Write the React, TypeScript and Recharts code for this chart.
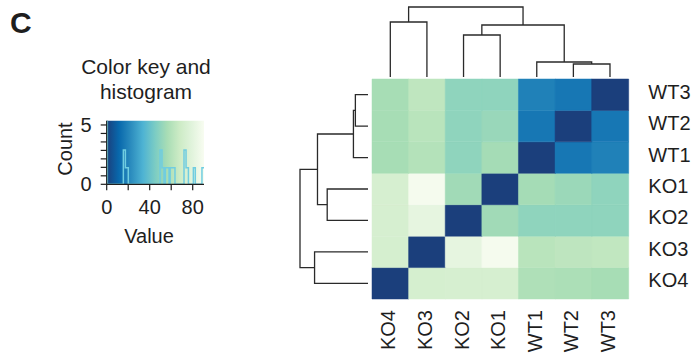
import React from "react";
import {
  BarChart,
  Bar,
  Cell,
  XAxis,
  YAxis,
  ScatterChart,
  Scatter,
  LineChart,
  Line,
  ReferenceArea,
} from "recharts";

// heatmap layout: columns left -> right, rows top -> bottom
const colNames = ["KO4", "KO3", "KO2", "KO1", "WT1", "WT2", "WT3"];
const rowNames = ["WT3", "WT2", "WT1", "KO1", "KO2", "KO3", "KO4"];

// distance values per row, in colNames order
const rowWT3 = [56, 63.5, 50, 50, 19, 16, 0];
const rowWT2 = [56, 61.5, 50, 52.5, 16, 0, 16];
const rowWT1 = [56, 60, 50, 55.5, 0, 16, 19];
const rowKO1 = [73, 89, 54.5, 0, 55.5, 53, 50];
const rowKO2 = [73, 81.5, 0, 54.5, 50, 50, 50];
const rowKO3 = [72.5, 0, 81.5, 89, 61.5, 63, 64];
const rowKO4 = [0, 72.5, 73, 73, 58.5, 57.5, 56];
const matrix = [rowWT3, rowWT2, rowWT1, rowKO1, rowKO2, rowKO3, rowKO4];

// hclust style merges: a name is a sample, a number points at an earlier merge (1-based)
const mergeLeft: (string | number)[] = ["WT2", "WT1", "KO2", 3, "KO4", 5];
const mergeRight: (string | number)[] = ["WT3", 1, "KO1", 2, "KO3", 4];
const mergeHeight = [13, 15, 42, 52, 55, 70];

// colour key histogram (step outline)
const histValue = [0, 0.6, 15.5, 17.4, 20.1, 49.6, 51.4, 53.3, 54.5, 58, 59, 63.5, 71.9, 73.8, 76, 80.6, 82.4, 88.6, 90.5];
const histCount = [7, 0, 2.9, 1.4, 0, 2.9, 1.4, 0, 1.4, 0, 1.4, 0, 2.9, 1.4, 0, 1.4, 0, 1.4, 1.4];
const valueTicks = [0, 20, 40, 60, 80];
const countTicks = [0, 0.714, 1.429, 2.143, 2.857, 3.571, 4.286, 5];

const gnbu = ["#1b3f7c", "#0868ac", "#2b8cbe", "#4eb3d3", "#7bccc4", "#a8ddb5", "#ccebc5", "#e0f3db", "#f7fcf0"];
const keyMax = 90;
const valueMax = 90.5;
const countMax = 5.36;

const W = 695;
const H = 356;
const FONT = "'Liberation Sans', Arial, Helvetica, sans-serif";
const INK = "#1e1e1e";

function hexToRgb(h: string) {
  return [1, 3, 5].map((i) => parseInt(h.slice(i, i + 2), 16));
}

function colorOf(v: number) {
  const t = Math.max(0, Math.min(1, v / keyMax)) * (gnbu.length - 1);
  const i = Math.min(Math.floor(t), gnbu.length - 2);
  const f = t - i;
  const a = hexToRgb(gnbu[i]);
  const b = hexToRgb(gnbu[i + 1]);
  const c = a.map((x, k) => Math.round(x + (b[k] - x) * f));
  return `rgb(${c[0]},${c[1]},${c[2]})`;
}

function buildLinks(order: string[]) {
  const pos: number[] = [];
  return mergeHeight.map((h, i) => {
    const side = (m: string | number) =>
      typeof m === "string"
        ? { p: order.indexOf(m), h: 0 }
        : { p: pos[m - 1], h: mergeHeight[m - 1] };
    const l = side(mergeLeft[i]);
    const r = side(mergeRight[i]);
    pos[i] = (l.p + r.p) / 2;
    return [l, { p: l.p, h }, { p: r.p, h }, r];
  });
}

const cells = colNames.map((c) => {
  const o: Record<string, string | number> = { col: c };
  rowNames.forEach((r) => (o[r] = 1));
  return o;
});

const histData = histValue.map((x, i) => ({ x, count: histCount[i] }));

const ColTick = (props: any) => {
  const { x, y, payload } = props;
  return (
    <text
      transform={`translate(${x},${y}) rotate(-90)`}
      textAnchor="end"
      dy={5}
      fontSize={20}
      fill={INK}
      fontFamily={FONT}
    >
      {payload.value}
    </text>
  );
};

const RowTick = (props: any) => {
  const { x, y, payload } = props;
  const name = rowNames[Math.round(6.5 - payload.value)];
  return (
    <text x={x} y={y} dy={4} textAnchor="start" fontSize={20} fill={INK} fontFamily={FONT}>
      {name}
    </text>
  );
};

const abs: React.CSSProperties = { position: "absolute", left: 0, top: 0 };
const noShape = () => <g />;
const dendroLine = { stroke: "#2a2a2a", strokeWidth: 1.3 };

export default function App() {
  const topLinks = buildLinks(colNames);
  const leftLinks = buildLinks(rowNames);
  return (
    <div style={{ position: "absolute", left: 0, top: 0, width: W, height: H, background: "#fff", fontFamily: FONT }}>
      <div style={abs}>
        <BarChart
          width={W}
          height={H}
          data={cells}
          barCategoryGap={0}
          barGap={0}
          margin={{ top: 79, right: 6.7, bottom: 7, left: 372 }}
        >
          <XAxis dataKey="col" type="category" height={50} axisLine={false} tickLine={false} tickSize={0} tickMargin={11} interval={0} tick={<ColTick />} />
          <YAxis
            orientation="right"
            type="number"
            domain={[0, 7]}
            ticks={[0.5, 1.5, 2.5, 3.5, 4.5, 5.5, 6.5]}
            interval={0}
            width={60}
            axisLine={false}
            tickLine={false}
            tickSize={0}
            tickMargin={20}
            tick={<RowTick />}
          />
          {[...rowNames].reverse().map((r) => {
            const ri = rowNames.indexOf(r);
            return (
              <Bar key={r} dataKey={r} stackId="heat" isAnimationActive={false}>
                {colNames.map((c, j) => (
                  <Cell key={c} fill={colorOf(matrix[ri][j])} stroke={colorOf(matrix[ri][j])} strokeWidth={0.5} />
                ))}
              </Bar>
            );
          })}
        </BarChart>
      </div>

      <div style={abs}>
        <ScatterChart width={W} height={H} margin={{ top: 7, right: W - 628.3, bottom: H - 77, left: 372 }}>
          <XAxis type="number" dataKey="p" domain={[-0.5, 6.5]} hide />
          <YAxis type="number" dataKey="h" domain={[0, 70]} hide />
          {topLinks.map((pts, i) => (
            <Scatter key={i} data={pts} line={dendroLine} shape={noShape} isAnimationActive={false} />
          ))}
        </ScatterChart>
      </div>

      <div style={abs}>
        <ScatterChart width={W} height={H} margin={{ top: 79, right: W - 368, bottom: H - 299, left: 300 }}>
          <XAxis type="number" dataKey="h" domain={[0, 70]} reversed hide />
          <YAxis type="number" dataKey="p" domain={[-0.5, 6.5]} reversed hide />
          {leftLinks.map((pts, i) => (
            <Scatter key={i} data={pts} line={dendroLine} shape={noShape} isAnimationActive={false} />
          ))}
        </ScatterChart>
      </div>

      <div style={abs}>
        <LineChart width={W} height={H} data={histData} margin={{ top: 120.7, right: W - 204, bottom: H - 184.3 - 40, left: 106.7 - 50 }}>
          <defs>
            <linearGradient id="keyGrad" x1="0" y1="0" x2="1" y2="0">
              {gnbu.map((c, i) => (
                <stop key={c} offset={((i / (gnbu.length - 1)) * keyMax) / valueMax} stopColor={c} />
              ))}
            </linearGradient>
          </defs>
          <ReferenceArea x1={0} x2={valueMax} y1={0} y2={countMax} fill="url(#keyGrad)" fillOpacity={1} stroke="none" />
          <XAxis
            type="number"
            dataKey="x"
            domain={[0, valueMax]}
            ticks={valueTicks}
            interval={0}
            height={40}
            tickSize={6}
            tickMargin={9}
            stroke={INK}
            strokeWidth={1.2}
            tick={{ fontSize: 20, fill: INK }}
            tickFormatter={(v: number) => (v % 40 === 0 ? String(v) : "")}
          />
          <YAxis
            type="number"
            domain={[0, countMax]}
            allowDataOverflow
            ticks={countTicks}
            interval={0}
            width={50}
            tickSize={6}
            tickMargin={9}
            stroke={INK}
            strokeWidth={1.2}
            tick={{ fontSize: 20, fill: INK }}
            tickFormatter={(v: number) => (v === 0 || v === 5 ? String(v) : "")}
          />
          <Line type="stepAfter" dataKey="count" stroke="#70cde0" strokeWidth={1.5} dot={false} isAnimationActive={false} />
        </LineChart>
      </div>

      <svg style={abs} width={W} height={H}>
        <text x={10} y={33.3} fontSize={30} fontWeight="bold" fill={INK} fontFamily={FONT}>
          C
        </text>
        <text x={146} y={74.3} fontSize={21} textAnchor="middle" fill={INK} fontFamily={FONT}>
          Color key and
        </text>
        <text x={146} y={98.7} fontSize={21} textAnchor="middle" fill={INK} fontFamily={FONT}>
          histogram
        </text>
        <text transform="translate(72,149) rotate(-90)" fontSize={20} textAnchor="middle" fill={INK} fontFamily={FONT}>
          Count
        </text>
        <text x={149} y={243} fontSize={20} textAnchor="middle" fill={INK} fontFamily={FONT}>
          Value
        </text>
      </svg>
    </div>
  );
}
